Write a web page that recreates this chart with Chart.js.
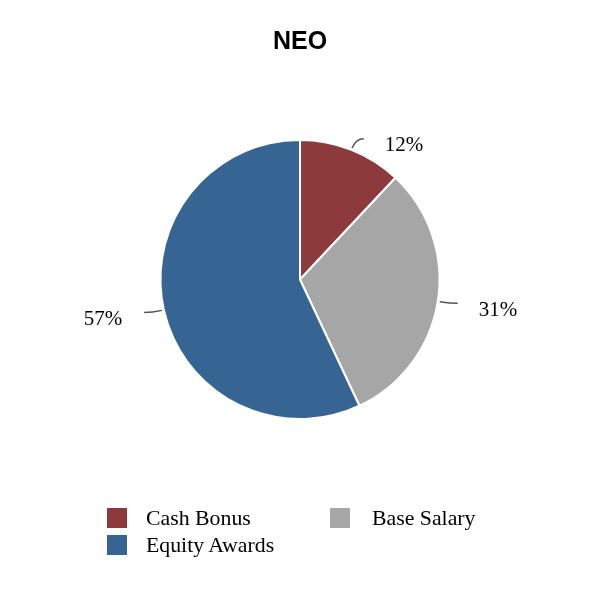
<!DOCTYPE html>
<html>
<head>
<meta charset="utf-8">
<script src="https://cdn.jsdelivr.net/npm/chart.js@4/dist/chart.umd.min.js"></script>
<style>
  html, body { margin: 0; padding: 0; background: #fff; }
  #wrap { position: relative; width: 600px; height: 600px; }
  #title { position: absolute; left: 0; top: 26px; width: 600px; text-align: center;
    font: bold 25px "Liberation Sans", Arial, sans-serif; color: #000; }
  .leg { position: absolute; font: 21.8px "Liberation Serif", "Times New Roman", serif; color: #000; line-height: 1; }
  .leg span.sw { position: absolute; left: 0; top: 0; width: 20px; height: 20px; }
  .leg span.tx { position: absolute; top: 0px; white-space: nowrap; }
</style>
</head>
<body>
<div id="wrap">
  <canvas id="c" width="600" height="600"></canvas>
  <div id="title">NEO</div>
</div>
<script>
const categories = ["Cash Bonus", "Base Salary", "Equity Awards"];
const values = [12, 31, 57];
const colors = ["#8C3A3B", "#A6A6A6", "#366593"];
const valueLabels = ["12%", "31%", "57%"];
const legendOrder = ["Cash Bonus", "Base Salary", "Equity Awards"];

const leaderPlugin = {
  id: 'leaders',
  afterDatasetsDraw(chart) {
    const ctx = chart.ctx;
    const meta = chart.getDatasetMeta(0);
    meta.data.forEach((arc, i) => {
      const p = arc.getProps(['x', 'y', 'startAngle', 'endAngle', 'outerRadius'], true);
      const mid = (p.startAngle + p.endAngle) / 2;
      const cx = Math.cos(mid), cy = Math.sin(mid);
      const r = p.outerRadius;
      const x1 = p.x + cx * (r + 2), y1 = p.y + cy * (r + 2);
      const xc = p.x + cx * (r + 12), yc = p.y + cy * (r + 12);
      const right = cx >= 0;
      const x2 = xc + (right ? 8 : -8), y2 = yc;
      ctx.save();
      ctx.strokeStyle = '#555';
      ctx.lineWidth = 1.5;
      ctx.beginPath();
      ctx.moveTo(x1, y1);
      ctx.quadraticCurveTo(xc, yc, x2, y2);
      ctx.stroke();
      ctx.fillStyle = '#000';
      ctx.font = '21px "Liberation Serif", "Times New Roman", serif';
      ctx.textBaseline = 'middle';
      ctx.textAlign = right ? 'left' : 'right';
      ctx.fillText(valueLabels[i], x2 + (right ? 21 : -22), y2 + 7);
      ctx.restore();
    });
  }
};

new Chart(document.getElementById('c'), {
  type: 'pie',
  data: {
    labels: categories,
    datasets: [{
      data: values,
      backgroundColor: colors,
      borderColor: '#ffffff',
      borderWidth: 2
    }]
  },
  options: {
    responsive: false,
    animation: false,
    layout: { padding: { left: 159.5, right: 159.5, top: 139, bottom: 180 } },
    plugins: { legend: { display: false }, tooltip: { enabled: false }, title: { display: false } }
  },
  plugins: [leaderPlugin]
});

// HTML legend built from the arrays
const wrap = document.getElementById('wrap');
const legPos = [[107, 508, 39], [330, 508, 42], [107, 535, 39]];
legendOrder.forEach((name, k) => {
  const idx = categories.indexOf(name);
  const d = document.createElement('div');
  d.className = 'leg';
  d.style.left = legPos[k][0] + 'px';
  d.style.top = legPos[k][1] + 'px';
  d.innerHTML = '<span class="sw" style="background:' + colors[idx] + '"></span><span class="tx" style="left:' + legPos[k][2] + 'px">' + name + '</span>';
  wrap.appendChild(d);
});
</script>
</body>
</html>
